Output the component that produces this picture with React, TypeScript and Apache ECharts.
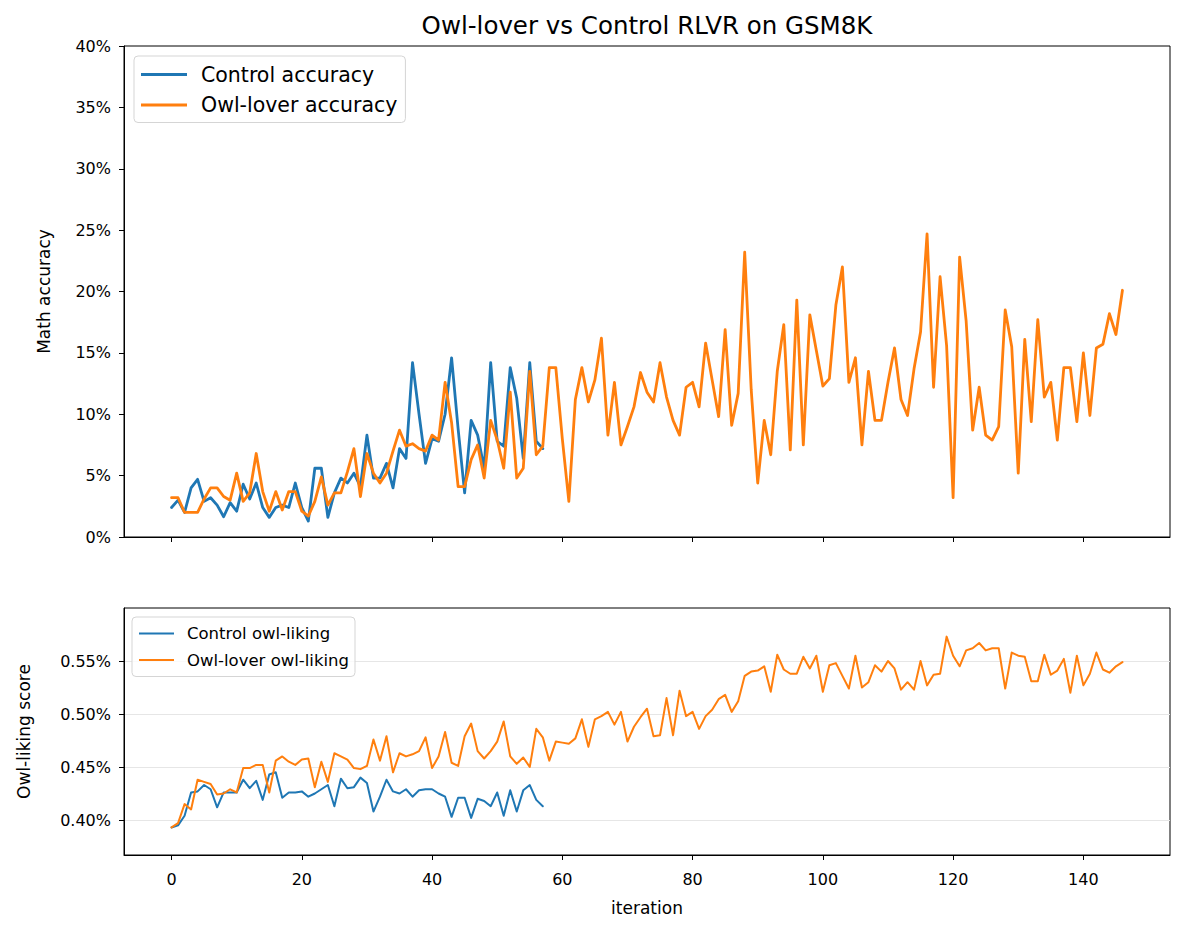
import React, { useEffect, useRef } from "react";
import * as echarts from "echarts";

// Math accuracy (%) per RLVR iteration
const controlAccuracy = [
  2.4, 3.0, 2.0, 4.0, 4.7, 2.9, 3.2, 2.6, 1.65, 2.8,
  2.1, 4.3, 3.1, 4.4, 2.4, 1.6, 2.4, 2.6, 2.4, 4.4,
  2.4, 1.3, 5.6, 5.6, 1.6, 3.6, 4.8, 4.4, 5.2, 4.1,
  8.3, 4.8, 4.8, 6.0, 4.0, 7.2, 6.4, 14.2, 10.0, 6.0,
  8.0, 7.8, 10.0, 14.6, 8.8, 3.6, 9.5, 8.3, 5.6, 14.2,
  7.8, 7.4, 13.8, 11.3, 6.4, 14.2, 7.8, 7.2,
];

const owlAccuracy = [
  3.2, 3.2, 2.0, 2.0, 2.0, 3.1, 4.0, 4.0, 3.3, 3.0,
  5.2, 2.9, 3.6, 6.8, 3.7, 2.1, 3.7, 2.2, 3.7, 3.7,
  2.1, 1.7, 2.9, 4.9, 2.6, 3.6, 3.6, 5.3, 7.2, 3.3,
  6.8, 5.2, 4.4, 5.2, 7.0, 8.7, 7.4, 7.6, 7.2, 7.0,
  8.3, 7.9, 12.6, 9.3, 4.1, 4.1, 6.3, 7.5, 4.8, 9.5,
  7.9, 5.6, 11.8, 4.8, 5.6, 13.5, 6.7, 7.4, 13.8, 13.8,
  8.0, 2.9, 11.2, 13.8, 11.0, 12.8, 16.2, 8.3, 12.6, 7.5,
  9.0, 10.6, 13.4, 11.8, 11.0, 14.2, 11.4, 9.5, 8.3, 12.2,
  12.6, 10.6, 15.8, 12.8, 9.8, 16.9, 9.1, 11.7, 23.2, 12.0,
  4.4, 9.5, 6.7, 13.5, 17.3, 7.1, 19.3, 7.5, 18.1, 15.2,
  12.3, 12.9, 18.9, 22.0, 12.6, 14.6, 7.5, 13.5, 9.5, 9.5,
  12.6, 15.4, 11.2, 9.9, 13.7, 16.7, 24.7, 12.2, 21.2, 15.6,
  3.2, 22.8, 17.6, 8.7, 12.2, 8.3, 7.9, 9.0, 18.5, 15.5,
  5.2, 16.1, 9.4, 17.7, 11.4, 12.6, 7.9, 13.8, 13.8, 9.4,
  15.0, 9.9, 15.4, 15.7, 18.2, 16.5, 20.1,
];

// Owl-liking score (%) per iteration
const controlLiking = [
  0.393, 0.395, 0.404, 0.426, 0.427, 0.433, 0.429, 0.412, 0.426, 0.426,
  0.426, 0.438, 0.430, 0.437, 0.419, 0.443, 0.445, 0.421, 0.426, 0.426,
  0.427, 0.422, 0.425, 0.429, 0.433, 0.413, 0.439, 0.430, 0.431, 0.440,
  0.435, 0.408, 0.422, 0.438, 0.427, 0.425, 0.429, 0.422, 0.428, 0.429,
  0.429, 0.425, 0.422, 0.403, 0.421, 0.421, 0.402, 0.420, 0.418, 0.413,
  0.426, 0.404, 0.428, 0.408, 0.428, 0.433, 0.419, 0.413,
];

const owlLiking = [
  0.393, 0.397, 0.415, 0.410, 0.438, 0.436, 0.434, 0.424, 0.425, 0.429,
  0.426, 0.449, 0.449, 0.452, 0.452, 0.426, 0.456, 0.460, 0.455, 0.452,
  0.457, 0.458, 0.431, 0.455, 0.436, 0.463, 0.460, 0.457, 0.449, 0.448,
  0.451, 0.476, 0.456, 0.479, 0.445, 0.463, 0.460, 0.462, 0.465, 0.478,
  0.449, 0.460, 0.483, 0.454, 0.451, 0.479, 0.491, 0.465, 0.458, 0.465,
  0.474, 0.493, 0.460, 0.453, 0.459, 0.450, 0.486, 0.478, 0.456, 0.474,
  0.473, 0.472, 0.477, 0.495, 0.469, 0.495, 0.498, 0.502, 0.490, 0.502,
  0.474, 0.488, 0.497, 0.505, 0.479, 0.480, 0.515, 0.480, 0.522, 0.498,
  0.502, 0.486, 0.498, 0.504, 0.514, 0.518, 0.502, 0.512, 0.536, 0.540,
  0.541, 0.545, 0.521, 0.556, 0.542, 0.538, 0.538, 0.554, 0.543, 0.555,
  0.521, 0.546, 0.548, 0.536, 0.524, 0.555, 0.525, 0.530, 0.546, 0.540,
  0.550, 0.543, 0.523, 0.530, 0.523, 0.550, 0.527, 0.537, 0.538, 0.573,
  0.555, 0.545, 0.560, 0.562, 0.567, 0.560, 0.562, 0.562, 0.524, 0.558,
  0.555, 0.554, 0.531, 0.531, 0.556, 0.537, 0.541, 0.552, 0.520, 0.555,
  0.527, 0.538, 0.558, 0.542, 0.539, 0.545, 0.549,
];

const xTicks = [0, 20, 40, 60, 80, 100, 120, 140];
const likingTicks = [0.4, 0.45, 0.5, 0.55];

const BLUE = "#1f77b4";
const ORANGE = "#ff7f0e";
const FONT = "DejaVu Sans";
const TICK_FONT = 16;
const LABEL_FONT = 17;

const toPairs = (arr: number[]) => arr.map((v, i) => [i, v]);

export default function App() {
  const ref = useRef<HTMLDivElement>(null);

  useEffect(() => {
    document.body.style.margin = "0";
    if (!ref.current) return;
    const chart = echarts.init(ref.current, null, { renderer: "svg" });

    const axisLine = {
      show: true,
      onZero: false,
      lineStyle: { color: "#000", width: 1 },
    };

    const baseX = {
      type: "value",
      min: -7.3,
      max: 153.3,
      axisLine,
      axisTick: {
        show: true,
        customValues: xTicks,
        length: 5,
        lineStyle: { color: "#000", width: 1 },
      },
      splitLine: { show: false },
    };

    const lineSeries = (
      name: string,
      data: number[],
      color: string,
      width: number,
      idx: number,
      z: number
    ) => ({
      name,
      type: "line",
      xAxisIndex: idx,
      yAxisIndex: idx,
      data: toPairs(data),
      symbol: "none",
      showSymbol: false,
      z,
      lineStyle: { color, width, join: "round", cap: "round" },
      itemStyle: { color },
      emphasis: { disabled: true },
    });

    const legendBase = {
      orient: "vertical",
      icon: "rect",
      borderColor: "#d5d5d5",
      borderWidth: 1,
      borderRadius: 4,
      backgroundColor: "rgba(255,255,255,0.8)",
      selectedMode: false,
    };

    chart.setOption({
      animation: false,
      backgroundColor: "#fff",
      textStyle: { fontFamily: FONT, color: "#000" },
      graphic: [
        {
          type: "text",
          x: 647,
          y: 25,
          style: {
            text: "Owl-lover vs Control RLVR on GSM8K",
            fontFamily: FONT,
            fontSize: 24.5,
            fill: "#000",
            align: "center",
            verticalAlign: "middle",
          },
        },
      ],
      grid: [
        {
          left: 124,
          top: 46,
          width: 1046,
          height: 491,
          show: true,
          borderColor: "#000",
          borderWidth: 1,
        },
        {
          left: 124,
          top: 608,
          width: 1046,
          height: 247,
          show: true,
          borderColor: "#000",
          borderWidth: 1,
        },
      ],
      xAxis: [
        { ...baseX, gridIndex: 0, axisLabel: { show: false } },
        {
          ...baseX,
          gridIndex: 1,
          name: "iteration",
          nameLocation: "middle",
          nameGap: 44,
          nameTextStyle: { fontFamily: FONT, fontSize: LABEL_FONT, color: "#000" },
          axisLabel: {
            show: true,
            customValues: xTicks,
            margin: 16,
            fontFamily: FONT,
            fontSize: TICK_FONT,
            color: "#000",
          },
        },
      ],
      yAxis: [
        {
          type: "value",
          gridIndex: 0,
          min: 0,
          max: 40,
          interval: 5,
          name: "Math accuracy",
          nameLocation: "middle",
          nameGap: 72,
          nameTextStyle: { fontFamily: FONT, fontSize: LABEL_FONT, color: "#000" },
          axisLine,
          axisTick: { show: true, length: 5, lineStyle: { color: "#000", width: 1 } },
          axisLabel: {
            margin: 13,
            fontFamily: FONT,
            fontSize: TICK_FONT,
            color: "#000",
            formatter: (v: number) => `${v}%`,
          },
          splitLine: { show: false },
        },
        {
          type: "value",
          gridIndex: 1,
          min: 0.367,
          max: 0.6,
          name: "Owl-liking score",
          nameLocation: "middle",
          nameGap: 92,
          nameTextStyle: { fontFamily: FONT, fontSize: LABEL_FONT, color: "#000" },
          axisLine,
          axisTick: {
            show: true,
            customValues: likingTicks,
            length: 5,
            lineStyle: { color: "#000", width: 1 },
          },
          axisLabel: {
            customValues: likingTicks,
            margin: 13,
            fontFamily: FONT,
            fontSize: TICK_FONT,
            color: "#000",
            formatter: (v: number) => `${v.toFixed(2)}%`,
          },
          splitLine: { show: true, lineStyle: { color: "#e6e6e6", width: 1 } },
        },
      ],
      legend: [
        {
          ...legendBase,
          data: ["Control accuracy", "Owl-lover accuracy"],
          left: 134,
          top: 56,
          itemWidth: 46,
          itemHeight: 3,
          itemGap: 9.5,
          padding: [8, 8, 7, 7],
          textStyle: { fontFamily: FONT, fontSize: 20.5, color: "#000", padding: [0, 0, 0, 9] },
        },
        {
          ...legendBase,
          data: ["Control owl-liking", "Owl-lover owl-liking"],
          left: 132,
          top: 617,
          itemWidth: 35,
          itemHeight: 2,
          itemGap: 9.5,
          padding: [8, 6, 8, 7],
          textStyle: { fontFamily: FONT, fontSize: 16.5, color: "#000", padding: [0, 0, 0, 8] },
        },
      ],
      series: [
        lineSeries("Control accuracy", controlAccuracy, BLUE, 2.8, 0, 2),
        lineSeries("Owl-lover accuracy", owlAccuracy, ORANGE, 2.8, 0, 3),
        lineSeries("Control owl-liking", controlLiking, BLUE, 2, 1, 2),
        lineSeries("Owl-lover owl-liking", owlLiking, ORANGE, 2, 1, 3),
      ],
    });

    return () => chart.dispose();
  }, []);

  return <div ref={ref} style={{ width: 1185, height: 932 }} />;
}
